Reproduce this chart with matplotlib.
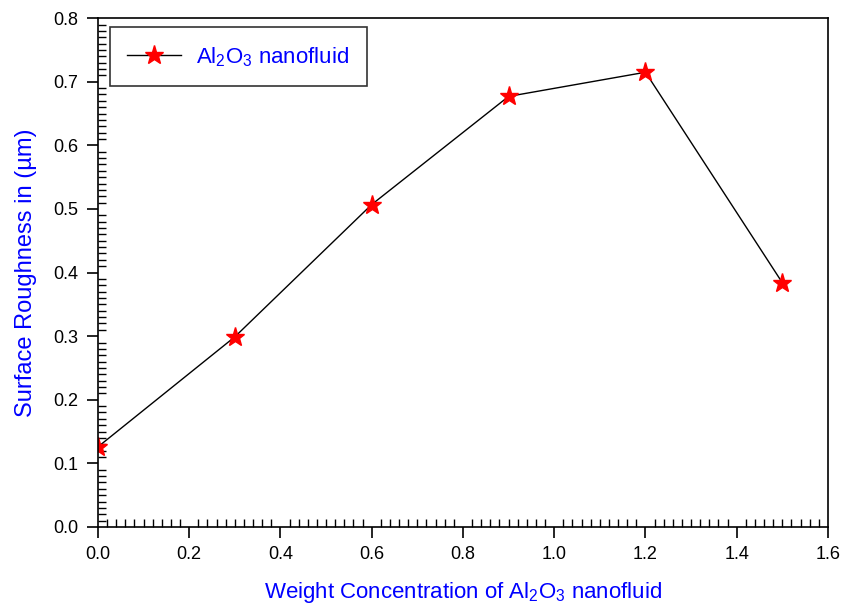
import matplotlib
matplotlib.use("Agg")
import matplotlib.pyplot as plt
from matplotlib.ticker import MultipleLocator

plt.rcParams['font.family'] = ['Liberation Sans', 'DejaVu Sans']
plt.rcParams['mathtext.fontset'] = 'custom'
plt.rcParams['mathtext.rm'] = 'Liberation Sans'
plt.rcParams['mathtext.it'] = 'Liberation Sans'

concentration = [0.0, 0.3, 0.6, 0.9, 1.2, 1.5]
roughness = [0.126, 0.299, 0.507, 0.677, 0.715, 0.384]
series_label = "Al$_2$O$_3$ nanofluid"

fig = plt.figure(figsize=(8.41, 6.06), dpi=100)
ax = fig.add_axes([0.1165, 0.1304, 0.868, 0.8396])

ax.plot(concentration, roughness, color="black", lw=1, marker="*",
        markersize=14, markerfacecolor="red", markeredgecolor="red",
        label=series_label)

ax.set_xlim(0, 1.6)
ax.set_ylim(0, 0.8)
ax.xaxis.set_major_locator(MultipleLocator(0.2))
ax.xaxis.set_minor_locator(MultipleLocator(0.02))
ax.yaxis.set_major_locator(MultipleLocator(0.1))
ax.yaxis.set_minor_locator(MultipleLocator(0.01))
ax.xaxis.set_major_formatter(plt.FormatStrFormatter("%.1f"))
ax.yaxis.set_major_formatter(plt.FormatStrFormatter("%.1f"))

ax.tick_params(which="major", direction="out", length=8, width=1.2, labelsize=13, pad=6)
ax.tick_params(which="minor", direction="in", length=6, width=1.0)
ax.tick_params(top=False, right=False)
for s in ax.spines.values():
    s.set_linewidth(1.2)

ax.set_xlabel("Weight Concentration of Al$_2$O$_3$ nanofluid", color="blue",
              fontsize=16, labelpad=12)
ax.set_ylabel("Surface Roughness in (\u00b5m)", color="blue", fontsize=17, labelpad=12)

leg = ax.legend(loc="upper left", fontsize=16, frameon=True, fancybox=False,
                borderpad=0.8, handlelength=2.4, handletextpad=0.7,
                borderaxespad=0, bbox_to_anchor=(0.016, 0.982))
leg.get_frame().set_edgecolor("black")
leg.get_frame().set_linewidth(1.2)
for t in leg.get_texts():
    t.set_color("blue")

fig.savefig("out.png", dpi=100)
